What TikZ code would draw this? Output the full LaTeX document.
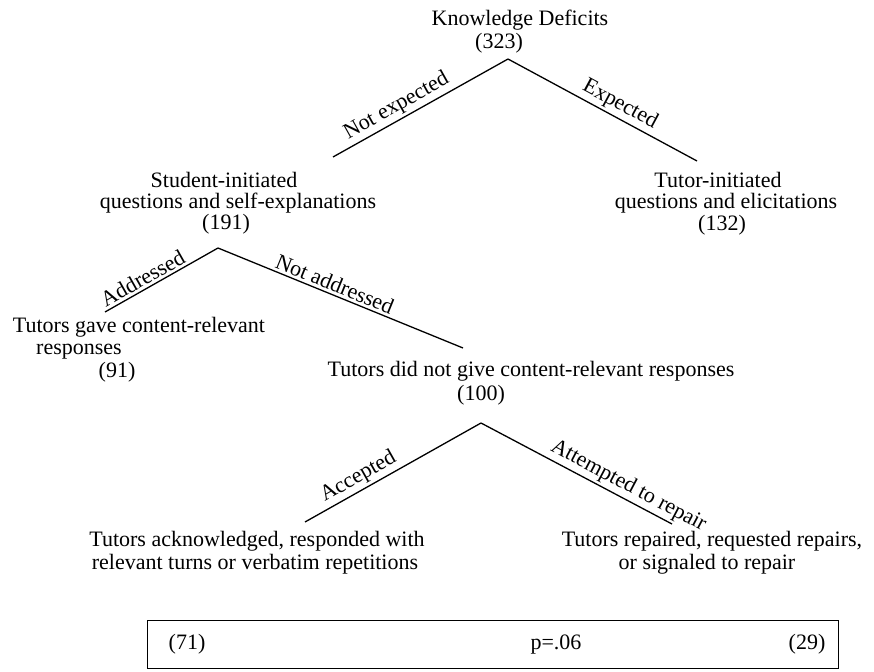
\documentclass[tikz,border=0pt]{standalone}
\usepackage{fontspec}
\setmainfont{Liberation Serif}
\begin{document}
\begin{tikzpicture}[x=1pt,y=-1pt,
  txt/.style={anchor=base,inner sep=0pt,font=\fontsize{22}{22}\selectfont},
  lab/.style={sloped,above,inner sep=2.5pt,font=\fontsize{22}{22}\selectfont},
  branch/.style={line width=1.3pt}]
\useasboundingbox (0,0) rectangle (874,671);
% text nodes
\node[txt] (kd1) at (520,26) {Knowledge Deficits};
\node[txt] (kd2) at (499,49) {(323)};
\node[txt] (si1) at (224,187) {Student-initiated};
\node[txt] (si2) at (238,208) {questions and self-explanations};
\node[txt] (si3) at (226,229) {(191)};
\node[txt] (ti1) at (718,187) {Tutor-initiated};
\node[txt] (ti2) at (726,208) {questions and elicitations};
\node[txt] (ti3) at (722,230) {(132)};
\node[txt] (tg1) at (139,332) {Tutors gave content-relevant};
\node[txt] (tg2) at (79,354) {responses};
\node[txt] (tg3) at (117,377) {(91)};
\node[txt] (tn1) at (531,376) {Tutors did not give content-relevant responses};
\node[txt] (tn2) at (481,400) {(100)};
\node[txt] (ta1) at (257,546) {Tutors acknowledged, responded with};
\node[txt] (ta2) at (255,569) {relevant turns or verbatim repetitions};
\node[txt] (tr1) at (712,546) {Tutors repaired, requested repairs,};
\node[txt] (tr2) at (707,569) {or signaled to repair};
% branch points
\coordinate (a1) at (508,59);
\coordinate (e1L) at (333,157);
\coordinate (e1R) at (697,161);
\coordinate (a2) at (218,248);
\coordinate (e2L) at (105,312);
\coordinate (e2R) at (463,348);
\coordinate (a3) at (481,423);
\coordinate (e3L) at (305,522);
\coordinate (e3R) at (672,524);
% branches
\draw[branch] (e1L) -- node[lab,pos=0.4] {Not expected} (a1);
\draw[branch] (a1) -- node[lab,pos=0.56] {Expected} (e1R);
\draw[branch] (e2L) -- node[lab,pos=0.38] {Addressed} (a2);
\draw[branch] (a2) -- node[lab,pos=0.46] {Not addressed} (e2R);
\draw[branch] (e3L) -- node[lab,pos=0.34] {Accepted} (a3);
\draw[branch] (a3) -- node[lab,pos=0.74] {Attempted to repair} (e3R);
% result box
\node[draw,line width=1.3pt,minimum width=691pt,minimum height=48pt,inner sep=0pt,anchor=north west] (box) at (147,620) {};
\node[txt] (n71) at (187,649) {(71)};
\node[txt] (pv) at (556,649) {p=.06};
\node[txt] (n29) at (807,649) {(29)};
\end{tikzpicture}
\end{document}
